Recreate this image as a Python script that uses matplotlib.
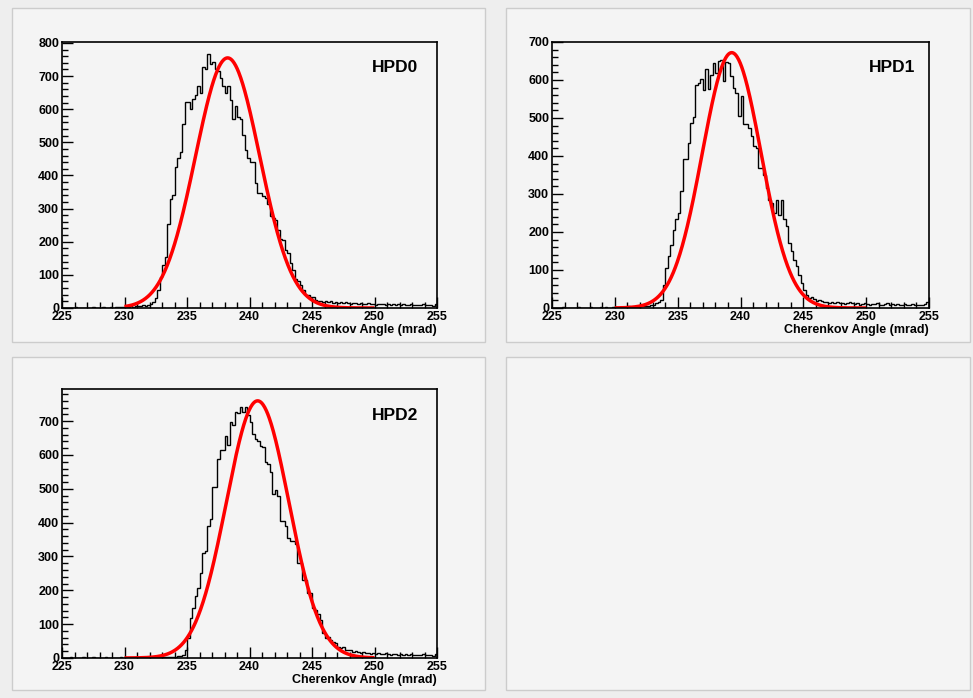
import numpy as np
import matplotlib
matplotlib.use('Agg')
import matplotlib.pyplot as plt
from matplotlib.patches import Rectangle
from matplotlib.ticker import MultipleLocator

plt.rcParams['font.family'] = ['Liberation Sans', 'DejaVu Sans']
plt.rcParams['font.weight'] = 'bold'

# histogram: 150 bins of 0.2 mrad from 225 to 255
x_lo, x_hi, n_bins = 225, 255, 150

hpd0 = ([0, 0, 1, 0, 0, 2, 0, 1, 0, 0, 1, 0, 2, 0, 1, 0, 3, 1, 0, 2, 1, 3, 2, 4, 3]
        + [3, 4, 5, 4, 6, 5, 7, 8, 6, 10, 12, 18, 30]
        + [55, 95, 130, 155, 253, 330, 342, 425, 453, 470, 555, 622, 622, 600, 630,
           643, 670, 648, 728, 723, 768, 737, 743, 720, 715, 693, 670, 648, 670, 627,
           572, 610, 578, 572, 522, 477, 452, 442, 442, 377, 348, 348, 337, 332, 314,
           278, 271, 266, 236, 208, 205, 176, 166, 135, 115, 87, 80, 70, 55, 40,
           38, 33, 32, 25, 20]
        + [22, 18, 20, 17, 21, 15, 18, 16, 19, 14, 17, 15, 13, 16, 14, 12, 15, 13, 11, 14,
           12, 13, 10, 12, 11, 13, 10, 12, 9, 11, 10, 12, 9, 11, 10, 8, 11, 9, 10, 8,
           9, 11, 8, 10, 9, 7, 12])

hpd1 = ([0, 1, 0, 0, 2, 0, 1, 0, 0, 1, 2, 0, 1, 0, 0, 2, 1, 0, 1, 3, 0, 2, 1, 1, 3,
         2, 1, 2, 3, 2, 4, 3, 2, 4, 3]
        + [4, 5, 6, 6, 8, 8, 12, 15, 22, 60]
        + [105, 136, 167, 206, 233, 250, 307, 391, 391, 435, 487, 503, 586, 593, 602,
           575, 628, 577, 612, 645, 619, 650, 653, 597, 647, 645, 610, 580, 567, 505,
           558, 483, 483, 474, 452, 426, 420, 369, 369, 351, 316, 285, 277, 250, 285,
           246, 285, 233, 215, 171, 149, 127, 110, 88, 66, 48, 35, 26, 29, 25,
           19, 22, 18]
        + [16, 17, 14, 15, 13, 16, 12, 14, 11, 13, 17, 12, 10, 12, 9, 11, 13, 10, 9, 11,
           10, 12, 9, 8, 10, 12, 9, 10, 8, 11, 9, 7, 10, 8, 9, 10, 8, 7, 9, 8, 11, 17])

hpd2 = ([0, 1, 0, 2, 0, 1, 0, 0, 3, 1, 0, 1, 2, 0, 1, 0, 0, 2, 1, 0, 1, 0, 1, 2, 0,
         1, 0, 0, 1, 2, 1, 0, 1, 1, 2, 1, 2, 1, 3, 2, 2, 3, 2, 4, 3]
        + [3, 5, 6, 10]
        + [23, 58, 117, 147, 182, 207, 251, 311, 316, 390, 410, 504, 504, 589, 614,
           616, 655, 629, 698, 688, 728, 723, 741, 728, 743, 718, 698, 663, 648, 640,
           626, 624, 579, 574, 549, 485, 497, 480, 405, 405, 390, 355, 346, 346, 336,
           281, 281, 231, 231, 192, 192, 147, 142, 129, 112, 75, 58, 63, 53, 48,
           43, 33, 30, 33, 23, 25, 23, 18]
        + [20, 17, 15, 18, 14, 16, 13, 15, 12, 14, 11, 13, 15, 12, 10, 12, 11, 9, 12, 10,
           13, 9, 11, 10, 8, 10, 9, 11, 8, 9, 10, 7, 12])

# gaussian fit parameters (amplitude, mean, sigma), fit range
fits = [(755, 238.25, 2.57), (672, 239.3, 2.34), (760, 240.65, 2.50)]
fit_range = (230, 250)

names = ['HPD0', 'HPD1', 'HPD2']
y_max = [803, 700, 795]
hists = [hpd0, hpd1, hpd2]

W, H = 973, 698
# frame boxes in pixels: left, right, top, bottom
frames = [(62, 437, 42, 308), (552, 929, 42, 308), (62, 437, 389, 658)]
pads = [(12, 485, 8, 342), (506, 970, 8, 342), (12, 485, 357, 690), (506, 970, 357, 690)]


def main():
    fig = plt.figure(figsize=(W / 100, H / 100), dpi=100, facecolor='#eeeeee')

    for (l, r, t, b) in pads:
        fig.patches.append(Rectangle((l / W, 1 - b / H), (r - l) / W, (b - t) / H,
                                     transform=fig.transFigure, facecolor='#f4f4f4',
                                     edgecolor='#cccccc', lw=1.0, zorder=-10))

    edges = np.linspace(x_lo, x_hi, n_bins + 1)
    for k in range(3):
        vals = np.array(hists[k])
        assert len(vals) == n_bins
        l, r, t, b = frames[k]
        ax = fig.add_axes([l / W, 1 - b / H, (r - l) / W, (b - t) / H], zorder=5)
        ax.set_facecolor('#f4f4f4')
        ax.stairs(vals, edges, color='black', lw=1.0)

        amp, mu, sig = fits[k]
        xf = np.linspace(fit_range[0], fit_range[1], 500)
        ax.plot(xf, amp * np.exp(-0.5 * ((xf - mu) / sig) ** 2), color='#ff0000',
                lw=2.5, solid_capstyle='butt')

        ax.set_xlim(x_lo, x_hi)
        ax.set_ylim(0, y_max[k])
        ax.xaxis.set_major_locator(MultipleLocator(5))
        ax.xaxis.set_minor_locator(MultipleLocator(1))
        ax.yaxis.set_major_locator(MultipleLocator(100))
        ax.yaxis.set_minor_locator(MultipleLocator(20))
        ax.tick_params(which='both', direction='in', top=False, right=False,
                       labelsize=9, width=1.0)
        ax.tick_params(which='major', length=8, pad=2)
        ax.tick_params(which='minor', length=4)
        for lab in ax.get_xticklabels() + ax.get_yticklabels():
            lab.set_fontweight('bold')
        for s in ax.spines.values():
            s.set_linewidth(1.2)

        ax.text(1.0, -22 / (b - t), 'Cherenkov Angle (mrad)', transform=ax.transAxes,
                ha='right', va='center', fontsize=9, fontweight='bold')
        tx = 395 if k != 1 else 892
        ty = 68 if k != 2 else 415
        ax.text((tx - l) / (r - l), (b - ty) / (b - t), names[k], transform=ax.transAxes,
                ha='center', va='center', fontsize=12.5, fontweight='bold')

    fig.savefig('out.png', dpi=100, facecolor=fig.get_facecolor())


if __name__ == '__main__':
    main()
